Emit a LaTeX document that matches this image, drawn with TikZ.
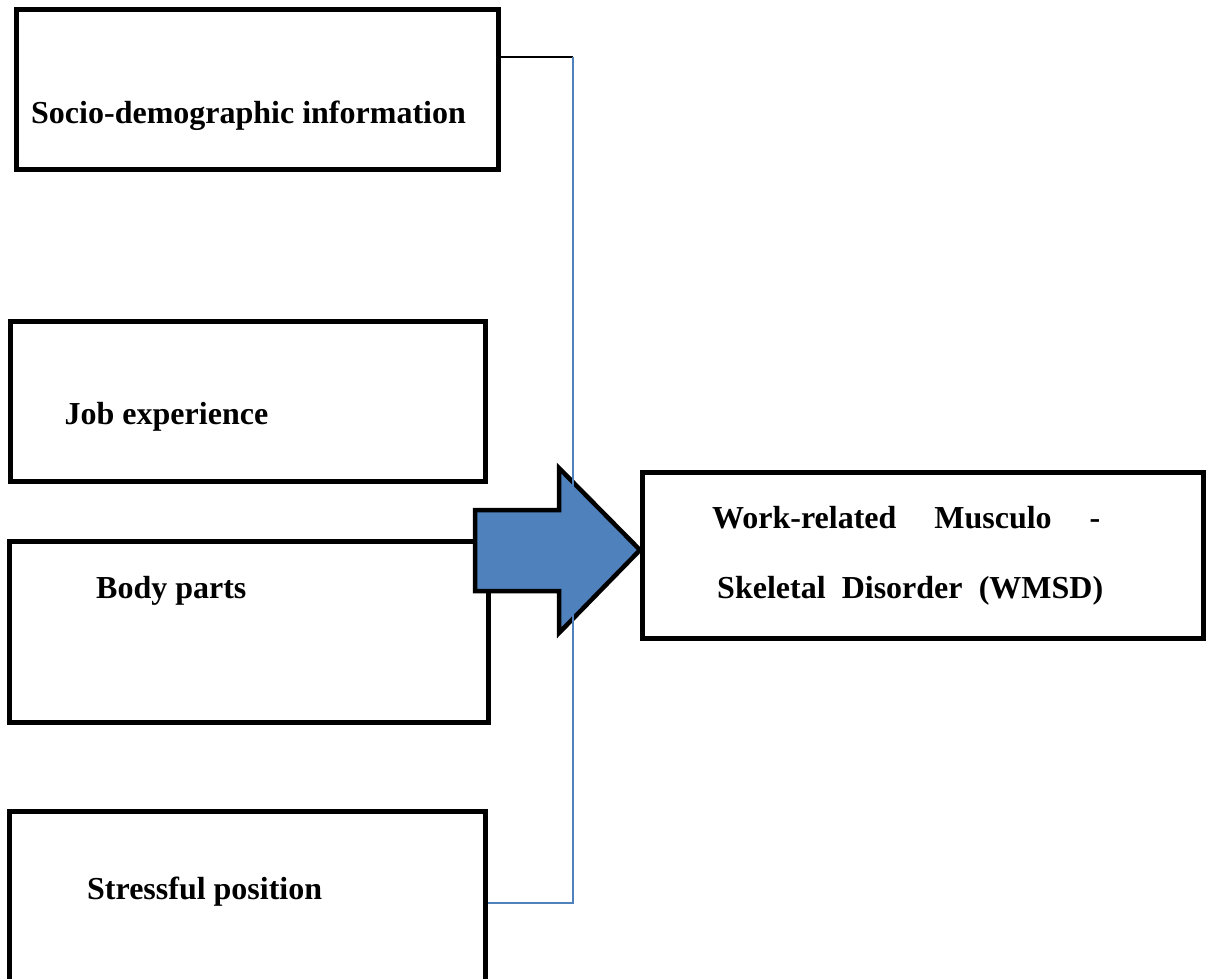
\documentclass[tikz,border=0pt]{standalone}
\usepackage{fontspec}
\setmainfont{Liberation Serif}
\usetikzlibrary{positioning}

\definecolor{officeblue}{HTML}{4F81BD}

\begin{document}
\begin{tikzpicture}[
    x=1pt, y=-1pt,
    factor/.style={rectangle, draw, line width=5pt, inner sep=0pt},
    txt/.style={anchor=base west, inner sep=0pt, font=\fontsize{32}{38}\selectfont\bfseries},
    blockarrow/.style={draw=black, fill=officeblue, line width=4.5pt, line join=miter},
    link/.style={draw=officeblue, line width=1.5pt}
]
\useasboundingbox (0,0) rectangle (1212,979);




\node[factor, minimum width=481.5pt, minimum height=160pt] (socio) at (257.25,89.5) {};
\node[factor, minimum width=474.5pt, minimum height=160pt] (job) at (247.75,401.5) {};
\node[factor, minimum width=479pt, minimum height=181pt] (body) at (249,632) {};
\node[factor, minimum width=475.5pt, minimum height=180pt] (stress) at (247.25,901.5) {};
\node[factor, minimum width=560.5pt, minimum height=166pt] (wmsd) at (922.75,555.5) {};




\node[txt] (sociotxt) at (31,124) {Socio-demographic information};
\node[txt] (jobtxt) at (64.5,424) {Job experience};
\node[txt] (bodytxt) at (96,598) {Body parts};
\node[txt] (stresstxt) at (87,899) {Stressful position};
\node[txt] (wmsdtxt1) at (712,528) {\makebox[388pt][s]{Work-related Musculo -}};
\node[txt] (wmsdtxt2) at (717,598) {\makebox[386pt][s]{Skeletal Disorder (WMSD)}};




\draw[blockarrow] (475,510) -- (559,510) -- (559,468) -- (640,550)
    -- (559,633) -- (559,591) -- (475,591) -- cycle;




\coordinate (jointop) at (573,57);
\coordinate (joinbot) at (573,903);
\draw[line width=1.5pt] (jointop -| socio.east) -- (jointop);
\draw[link] (jointop) -- (joinbot) -- (joinbot -| stress.east);

\end{tikzpicture}
\end{document}
